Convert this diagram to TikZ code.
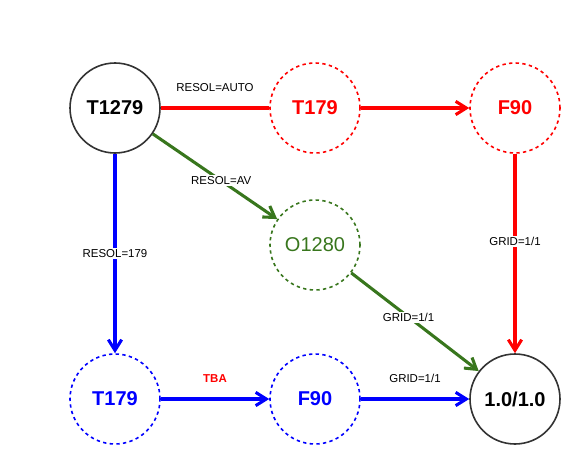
\documentclass[tikz,border=0pt]{standalone}
\usepackage{fontspec}
\setmainfont{Liberation Sans}
\definecolor{gridred}{RGB}{255,0,0}
\definecolor{gridblue}{RGB}{0,0,255}
\definecolor{gridgreen}{RGB}{56,118,29}
\definecolor{gridblack}{RGB}{51,51,51}
\usetikzlibrary{arrows.meta}

\begin{document}
\begin{tikzpicture}[x=0.75pt,y=-0.75pt,
  res/.style={circle,draw=gridblack,line width=1.2pt,minimum size=67.5pt,inner sep=0pt,font=\fontsize{15}{18}\selectfont\bfseries},
  dashres/.style={res,dash pattern=on 2.5pt off 2.5pt},
  lbl/.style={fill=white,inner sep=1pt,font=\fontsize{8.6}{10}\selectfont,text=black},
  flow/.style={line width=2.3pt,-{Straight Barb[length=8pt,width=10pt]}}]
  \useasboundingbox (0,0) rectangle (586,464);
  % Grids (top row)
  \node[res] (t1279) at (115,108) {T1279};
  \node[dashres,draw=gridred,text=gridred] (rt179) at (315,108) {T179};
  \node[dashres,draw=gridred,text=gridred] (rf90) at (515,108) {F90};
  % Grid (middle)
  \node[dashres,draw=gridgreen,text=gridgreen,font=\fontsize{15}{18}\selectfont] (o1280) at (315,245) {O1280};
  % Grids (bottom row)
  \node[dashres,draw=gridblue,text=gridblue] (bt179) at (115,399) {T179};
  \node[dashres,draw=gridblue,text=gridblue] (bf90) at (315,399) {F90};
  \node[res] (out) at (515,399) {1.0/1.0};
  % Red path
  \draw[line width=2.3pt,gridred] (t1279) -- node[lbl,above=10pt] {RESOL=AUTO} (rt179);
  \draw[flow,gridred] (rt179) -- (rf90);
  \draw[flow,gridred] (rf90) -- node[lbl,pos=0.44] {GRID=1/1} (out);
  % Green path
  \draw[flow,gridgreen] (t1279) -- node[lbl,pos=0.55] {RESOL=AV} (o1280);
  \draw[flow,gridgreen] (o1280) -- node[lbl,pos=0.45] {GRID=1/1} (out);
  % Blue path
  \draw[flow,gridblue] (t1279) -- node[lbl] {RESOL=179} (bt179);
  \draw[flow,gridblue] (bt179) -- node[lbl,above=10pt,text=gridred,font=\fontsize{8.6}{10}\selectfont\bfseries] {TBA} (bf90);
  \draw[flow,gridblue] (bf90) -- node[lbl,above=10pt] {GRID=1/1} (out);
\end{tikzpicture}
\end{document}
